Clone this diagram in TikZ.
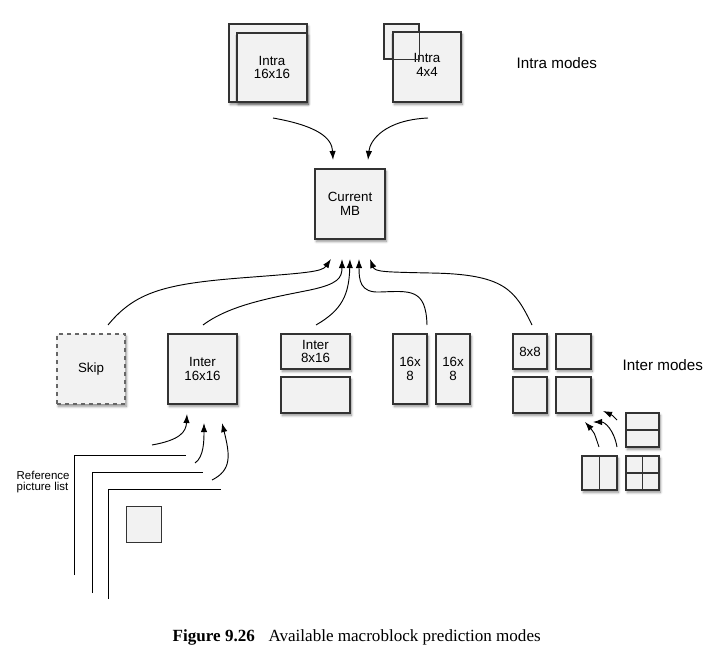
\documentclass[tikz,border=0pt]{standalone}
\usepackage{fontspec}
\setmainfont{Liberation Serif}
\setsansfont{Liberation Sans}
\usetikzlibrary{arrows.meta,shadows.blur}

\tikzset{
	blk/.style={draw=black!80, fill=black!5, line width=0.9pt, inner sep=0pt,
		blur shadow={shadow xshift=1pt, shadow yshift=-1.8pt, shadow blur steps=6, shadow opacity=45},
		font=\sffamily\fontsize{10}{10}\selectfont, align=center},
	plainblk/.style={draw=black!80, fill=black!5, line width=0.9pt, inner sep=0pt},
	flow/.style={-{Latex[length=6.8pt,width=4.8pt]}, line width=0.7pt},
	lbl/.style={font=\sffamily, anchor=west, align=left},
}

\begin{document}
	\begin{tikzpicture}[x=0.75pt, y=-0.75pt]
			\useasboundingbox (0,0) rectangle (728,652);

			% intra blocks
			\node (intraback) [blk, minimum width=58.5pt, minimum height=58.5pt] at (268,63) {};
			\node (intra16) [blk, minimum width=52.5pt, minimum height=51.75pt] at (272,67.5) {Intra\\16x16};
			\node (intra4sub) [plainblk, minimum size=26.25pt] at (401.5,41.5) {};
			\node (intra4) [blk, minimum width=51pt, minimum height=52.5pt] at (427,67) {\\[-6pt]Intra\\4x4};
			\draw [draw=black!80, line width=0.9pt] (intra4sub.north west) rectangle (intra4sub.south east);
			\node [lbl, font=\sffamily\fontsize{11.4}{12}\selectfont] (intralbl) at (512,63) {Intra modes};

			\node (cur) [blk, minimum size=52.5pt] at (350,204) {Current\\MB};

			\coordinate (intraout1) at (273,118);
			\coordinate (intraout2) at (428,118);
			\coordinate (curin1) at (333,160);
			\coordinate (curin2) at (368,160);
			\draw [flow] (intraout1) .. controls (318,126) and (332,138) .. (curin1);
			\draw [flow] (intraout2) .. controls (385,120) and (370,140) .. (curin2);

			% inter blocks
			\node (skip) [blk, dashed, draw=black!60, minimum width=51pt, minimum height=52.5pt] at (91,369) {Skip};
			\node (inter16) [blk, minimum width=51.75pt, minimum height=52.5pt] at (202.5,369) {Inter\\16x16};
			\node (inter8a) [blk, minimum width=51.75pt, minimum height=26.25pt] at (315.5,351.5) {Inter\\8x16};
			\node (inter8b) [blk, minimum width=51.75pt, minimum height=27pt] at (315.5,395) {};
			\node (part16a) [blk, minimum width=25.5pt, minimum height=52.5pt] at (410,369) {16x\\8};
			\node (part16b) [blk, minimum width=25.5pt, minimum height=52.5pt] at (453,369) {16x\\8};
			\node (quad1) [blk, minimum width=25.5pt, minimum height=26.25pt] at (530,351.5) {8x8};
			\node (quad2) [blk, minimum width=26.25pt, minimum height=26.25pt] at (573.5,351.5) {};
			\node (quad3) [blk, minimum width=25.5pt, minimum height=27pt] at (530,395) {};
			\node (quad4) [blk, minimum width=26.25pt, minimum height=27pt] at (573.5,395) {};
			\node [lbl, font=\sffamily\fontsize{11.4}{12}\selectfont] (interlbl) at (618,365) {Inter modes};

			\coordinate (skipout) at (108,325);
			\coordinate (inter16out) at (203,325);
			\coordinate (inter8out) at (316,325);
			\coordinate (part16out) at (427,325);
			\coordinate (quadout) at (532,325);
			\coordinate (curin3) at (331,259);
			\coordinate (curin4) at (342,259);
			\coordinate (curin5) at (350,259);
			\coordinate (curin6) at (359,259);
			\coordinate (curin7) at (370,259);
			\draw [flow] (skipout) .. controls (135,292) and (165,284) .. (240,278) .. controls (305,273) and (322,272) .. (curin3);
			\draw [flow] (inter16out) .. controls (230,305) and (270,298) .. (310,290) .. controls (338,284) and (342,278) .. (curin4);
			\draw [flow] (inter8out) .. controls (342,310) and (349,295) .. (curin5);
			\draw [flow] (part16out) .. controls (426,288) and (410,291) .. (380,292) .. controls (360,293) and (359,280) .. (curin6);
			\draw [flow] (quadout) .. controls (515,290) and (505,274) .. (430,273) .. controls (385,272) and (375,272) .. (curin7);

			% sub-macroblock partitions
			\node (sub8x4) [blk, minimum width=24.75pt, minimum height=25.5pt] at (642.5,430) {};
			\draw [line width=0.9pt, draw=black!80] (sub8x4.west) -- (sub8x4.east);
			\node (sub4x8) [blk, minimum width=26.25pt, minimum height=25.5pt] at (599.5,473) {};
			\draw [line width=0.9pt, draw=black!80] (sub4x8.north) -- (sub4x8.south);
			\node (sub4x4) [blk, minimum width=24.75pt, minimum height=25.5pt] at (642.5,473) {};
			\draw [line width=0.9pt, draw=black!80] (sub4x4.west) -- (sub4x4.east) (sub4x4.north) -- (sub4x4.south);

			\coordinate (subout1) at (617,420);
			\coordinate (subout2) at (617,447);
			\coordinate (subout3) at (599,447);
			\coordinate (subin1) at (603,411);
			\coordinate (subin2) at (593,422);
			\coordinate (subin3) at (585,422);
			\draw [flow] (subout1) .. controls (612,415) .. (subin1);
			\draw [flow] (subout2) .. controls (614,430) and (605,422) .. (subin2);
			\draw [flow] (subout3) .. controls (594,432) .. (subin3);

			% reference picture list
			\draw [line width=0.7pt] (74,575) -- (74,455) -- (186,455);
			\draw [line width=0.7pt] (92,593) -- (92,472) -- (203,472);
			\draw [line width=0.7pt] (108,599) -- (108,489) -- (221,489);
			\node (refpic) [plainblk, line width=0.7pt, minimum width=26.25pt, minimum height=27pt] at (143.5,524) {};
			\node [lbl, font=\sffamily\fontsize{8.6}{8.4}\selectfont] (reflbl) at (12,482) {Reference\\picture list};

			\coordinate (refout1) at (152,445);
			\coordinate (refout2) at (195,463);
			\coordinate (refout3) at (212,480);
			\coordinate (inter16in1) at (187,414);
			\coordinate (inter16in2) at (204,423);
			\coordinate (inter16in3) at (222,423);
			\draw [flow] (refout1) .. controls (180,440) and (186,432) .. (inter16in1);
			\draw [flow] (refout2) .. controls (204,457) and (204,440) .. (inter16in2);
			\draw [flow] (refout3) .. controls (232,470) and (230,455) .. (inter16in3);

			\node (caption) [anchor=west, font=\fontsize{12.8}{14}\selectfont] at (168,637) {\textbf{Figure 9.26}\hspace{0.8em}Available macroblock prediction modes};
		\end{tikzpicture}
\end{document}
